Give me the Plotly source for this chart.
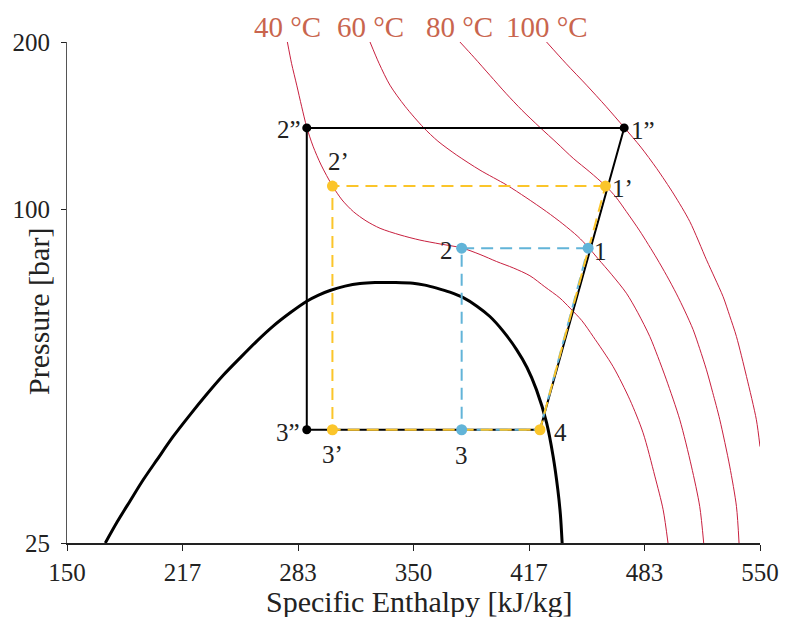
import math
import plotly.graph_objects as go

# ---- CO2 saturation dome (specific enthalpy kJ/kg, pressure bar) ----
dome_h = [172.1, 179.0, 186.5, 194.0, 201.9, 211.3, 221.1, 230.3, 240.3, 249.9,
          259.6, 269.0, 278.8, 288.4, 294.9, 301.8, 310.5, 319.1, 327.8, 339.3,
          349.7, 356.6, 363.4, 371.0, 378.7, 386.6, 394.1, 401.6, 409.5, 415.5,
          421.0, 426.8, 430.6, 433.3, 434.8, 435.8]
dome_p = [25.0, 27.3, 29.8, 32.5, 35.3, 38.9, 42.6, 46.2, 50.2, 53.9,
          57.8, 61.5, 65.0, 68.2, 69.9, 71.3, 72.6, 73.4, 73.7, 73.7,
          73.5, 72.9, 72.0, 70.8, 69.2, 66.8, 64.0, 60.3, 55.8, 51.8,
          47.2, 41.2, 35.8, 31.2, 28.1, 25.0]

# ---- isotherms ----
iso_labels = ["40 °C", "60 °C", "80 °C", "100 °C"]
iso40_h = [277.2, 279.6, 282.6, 285.4, 288.4, 292.0, 296.7, 303.2, 308.8, 315.3,
           322.6, 330.7, 342.2, 353.7, 365.3, 377.8, 388.4, 398.0, 407.6, 417.2,
           425.8, 434.5, 440.3, 447.2, 453.7, 465.2, 474.9, 482.5, 489.3, 494.1, 496.9]
iso40_p = [200.0, 183.1, 167.2, 153.2, 140.3, 129.8, 120.0, 110.1, 103.8, 98.9,
           95.2, 92.3, 89.8, 87.9, 86.5, 85.1, 82.8, 80.4, 78.3, 75.8,
           72.4, 69.1, 66.3, 62.9, 58.9, 52.0, 45.3, 39.5, 33.0, 28.7, 25.0]
iso60_h = [324.9, 330.1, 336.4, 345.1, 355.7, 364.1, 374.9, 388.4, 403.7, 414.9,
           426.8, 436.2, 444.9, 450.8, 456.6, 464.5, 472.9, 479.5, 486.4, 491.0,
           496.0, 503.7, 510.4, 515.2, 517.5]
iso60_p = [200.0, 183.1, 167.2, 153.2, 140.3, 132.5, 125.1, 117.5, 110.5, 104.9,
           98.9, 94.0, 89.2, 85.4, 81.3, 76.1, 70.5, 65.0, 58.9, 54.2,
           49.2, 41.7, 34.4, 29.1, 25.0]
iso80_h = [376.8, 384.9, 394.1, 403.3, 412.6, 423.0, 432.8, 442.2, 451.8, 460.8,
           466.8, 472.9, 480.6, 490.3, 496.2, 501.8, 506.6, 511.4, 515.2, 519.1,
           522.7, 526.8, 532.5, 536.4, 537.9]
iso80_p = [200.0, 187.7, 174.2, 161.7, 150.7, 140.3, 131.5, 123.4, 116.6, 110.1,
           105.1, 98.9, 91.3, 81.6, 75.8, 70.3, 65.5, 60.6, 56.0, 51.3,
           46.7, 41.7, 34.4, 29.1, 25.0]
iso100_h = [426.8, 437.9, 449.9, 461.0, 471.6, 481.2, 490.3, 500.2, 509.5, 519.1,
            523.9, 528.7, 532.5, 536.4, 542.2, 547.9, 550.0]
iso100_p = [200.0, 183.1, 167.2, 153.2, 140.3, 129.3, 118.4, 106.4, 94.9, 81.0,
            75.1, 69.5, 64.2, 58.9, 49.9, 41.7, 37.3]

# ---- cycle state points ----
h_1, h_1p, h_1pp = 450.8, 460.8, 471.6
h_2, h_2p, h_2pp = 377.8, 303.2, 288.4
h_4 = 423.0
p_1, p_1p, p_1pp = 85.0, 110.0, 140.0
p_low = 40.0

# ---- axis ticks ----
x_tickvals = [150 + i * 400 / 6 for i in range(7)]
x_ticktext = ["150", "217", "283", "350", "417", "483", "550"]
y_tickvals = [25, 100, 200]
y_ticktext = ["25", "100", "200"]

FONT = "Liberation Serif"
ISO_RED = "#C8203F"
LABEL_RED = "#C9654E"
BLUE = "#62B4D8"
YELLOW = "#FBC52A"
INK = "#222222"

fig = go.Figure()

iso_sets = [(iso40_h, iso40_p), (iso60_h, iso60_p), (iso80_h, iso80_p), (iso100_h, iso100_p)]
for hs, ps in iso_sets:
    fig.add_trace(go.Scatter(x=hs, y=ps, mode="lines",
                             line=dict(color=ISO_RED, width=1, shape="spline", smoothing=0.8),
                             hoverinfo="skip"))

fig.add_trace(go.Scatter(x=dome_h, y=dome_p, mode="lines",
                         line=dict(color="black", width=3, shape="spline", smoothing=0.8),
                         hoverinfo="skip"))

# cycles: 1 -> 2 -> 3 -> 4 -> 1
black_h = [h_1pp, h_2pp, h_2pp, h_4, h_1pp]
black_p = [p_1pp, p_1pp, p_low, p_low, p_1pp]
blue_h = [h_1, h_2, h_2, h_4, h_1]
blue_p = [p_1, p_1, p_low, p_low, p_1]
yellow_h = [h_1p, h_2p, h_2p, h_4, h_1p]
yellow_p = [p_1p, p_1p, p_low, p_low, p_1p]

fig.add_trace(go.Scatter(x=black_h, y=black_p, mode="lines",
                         line=dict(color="black", width=2), hoverinfo="skip"))
fig.add_trace(go.Scatter(x=blue_h, y=blue_p, mode="lines",
                         line=dict(color=BLUE, width=2, dash="12px,7px"), hoverinfo="skip"))
fig.add_trace(go.Scatter(x=yellow_h, y=yellow_p, mode="lines",
                         line=dict(color=YELLOW, width=2, dash="12px,7px"), hoverinfo="skip"))

# state markers
fig.add_trace(go.Scatter(x=black_h[:3], y=black_p[:3], mode="markers",
                         marker=dict(color="black", size=9), hoverinfo="skip"))
fig.add_trace(go.Scatter(x=blue_h[:3], y=blue_p[:3], mode="markers",
                         marker=dict(color=BLUE, size=11), hoverinfo="skip"))
fig.add_trace(go.Scatter(x=yellow_h[:4], y=yellow_p[:4], mode="markers",
                         marker=dict(color=YELLOW, size=11), hoverinfo="skip"))

annotations = []
# isotherm labels above each curve's top end
for (hs, ps), lab in zip(iso_sets, iso_labels):
    annotations.append(dict(x=hs[0], y=math.log10(ps[0]), text=lab, showarrow=False,
                            xanchor="center", yanchor="middle", yshift=15,
                            font=dict(family=FONT, size=29, color=LABEL_RED)))

# state point labels: (text, h, p, xanchor, xshift, yshift)
point_labels = [
    ("2\u201d", h_2pp, p_1pp, "right", -4, -2),
    ("2\u2019", h_2p, p_1p, "center", 6, 25),
    ("2", h_2, p_1, "right", -7, -2),
    ("1\u201d", h_1pp, p_1pp, "left", 5, -3),
    ("1\u2019", h_1p, p_1p, "left", 5, -2),
    ("1", h_1, p_1, "left", 4, -3),
    ("3\u201d", h_2pp, p_low, "right", -5, -3),
    ("3\u2019", h_2p, p_low, "center", 0, -25),
    ("3", h_2, p_low, "center", 0, -26),
    ("4", h_4, p_low, "left", 12, -3),
]
for txt, hx, py, xa, xs, ys in point_labels:
    annotations.append(dict(x=hx, y=math.log10(py), text=txt, showarrow=False,
                            xanchor=xa, yanchor="middle", xshift=xs, yshift=ys,
                            font=dict(family=FONT, size=25, color=INK)))

# axis titles
annotations.append(dict(xref="paper", yref="paper", x=0.509, y=0, yshift=-58,
                        text="Specific Enthalpy [kJ/kg]", showarrow=False,
                        xanchor="center", yanchor="middle",
                        font=dict(family=FONT, size=30, color=INK)))
annotations.append(dict(xref="paper", yref="paper", x=0, y=0.461, xshift=-29,
                        text="Pressure [bar]", showarrow=False, textangle=-90,
                        xanchor="center", yanchor="middle",
                        font=dict(family=FONT, size=30, color=INK)))

fig.update_layout(
    width=792, height=617,
    margin=dict(l=67, r=32, t=42, b=74),
    paper_bgcolor="white", plot_bgcolor="white",
    showlegend=False,
    font=dict(family=FONT, color=INK),
    annotations=annotations,
    xaxis=dict(range=[150, 550], showgrid=False, zeroline=False, automargin=False,
               showline=True, linecolor=INK, linewidth=1.5,
               ticks="outside", ticklen=6, tickwidth=1, tickcolor=INK,
               tickvals=x_tickvals, ticktext=x_ticktext,
               tickfont=dict(family=FONT, size=25, color=INK)),
    yaxis=dict(type="log", range=[math.log10(25), math.log10(200)],
               showgrid=False, zeroline=False, automargin=False,
               showline=True, linecolor="#555555", linewidth=1,
               ticks="outside", ticklen=5, tickwidth=1, tickcolor=INK,
               ticklabelstandoff=6,
               tickvals=y_tickvals, ticktext=y_ticktext,
               tickfont=dict(family=FONT, size=25, color=INK)),
)

fig.write_html("out.html")
